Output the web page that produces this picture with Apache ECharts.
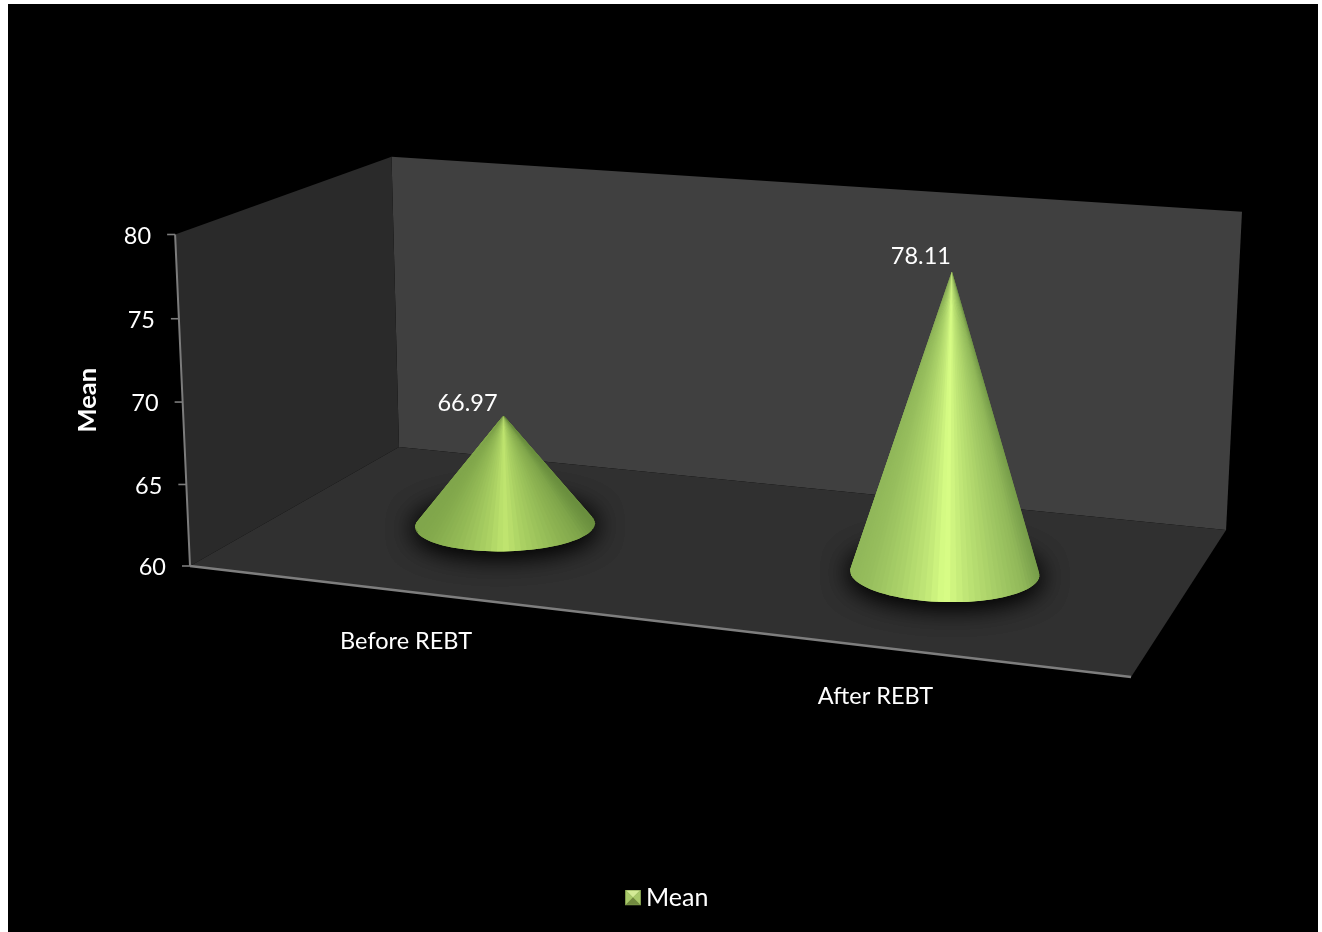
<!DOCTYPE html>
<html>
<head>
<meta charset="utf-8">
<style>
  html, body { margin: 0; padding: 0; background: #fff; }
  #chart { width: 1322px; height: 932px; }
</style>
<script src="https://cdn.jsdelivr.net/npm/echarts@6/dist/echarts.min.js"></script>
</head>
<body>
<div id="chart"></div>
<script>
// Chart data
const categories = ['Before REBT', 'After REBT'];
const meanValues = [66.97, 78.11];
const tickValues = [60, 65, 70, 75, 80];
const seriesName = 'Mean';
const axisTitle = 'Mean';

const FONT = 'Lato, Carlito, "Open Sans", sans-serif';
const FONT_SIZE = 23.5;

// Projective map of the unit floor square (u along the category axis, v into the depth).
const P = { a: 821.4, b: 268.85, c: 190, d: 39.4, e: -52, f: 566, g: -0.1058, h: 0.15 };
const H_UNIT = 331.5;        // height of the value range at the front-left corner
const H_DEPTH_POWER = 0.95;  // how strongly that height shrinks with distance
const LEAN_SLOPE = 9.17e-5;  // verticals converge on a point above x = 680
const LEAN_X0 = 680;
const TOP_BULGE = 0.022;     // foreshortening along the vertical direction

function project(u, v, t) {
  const w = P.g * u + P.h * v + 1;
  const X = (P.a * u + P.b * v + P.c) / w;
  const Y = (P.d * u + P.e * v + P.f) / w;
  const tp = t / (1 + TOP_BULGE * (1 - t));
  const hpx = (H_UNIT / Math.pow(w, H_DEPTH_POWER)) * tp;
  return [X + (X - LEAN_X0) * LEAN_SLOPE * hpx, Y - hpx];
}

// Turns a data point into axis fractions through the chart's own scales.
function toUnit(params, api, cat, val) {
  const g = params.coordSys;
  const pt = api.coord([cat, val]);
  return { u: (pt[0] - g.x) / g.width, t: (g.y + g.height - pt[1]) / g.height };
}

const SHADE_STOPS = [0, 0.08, 0.25, 0.4, 0.5, 0.6, 0.75, 0.92, 1];
const SHADE_LEVEL = [0.72, 0.74, 0.82, 0.91, 1, 0.91, 0.82, 0.72, 0.62];
function shade(s, peak) {
  let i = 0;
  while (i < SHADE_STOPS.length - 2 && s > SHADE_STOPS[i + 1]) i++;
  const f = (s - SHADE_STOPS[i]) / (SHADE_STOPS[i + 1] - SHADE_STOPS[i]);
  const k = SHADE_LEVEL[i] + (SHADE_LEVEL[i + 1] - SHADE_LEVEL[i]) * f;
  // Red and blue fall off a little faster than green, which keeps the sides saturated.
  const soft = Math.pow(k, 1.25);
  return 'rgb(' + Math.round(peak[0] * soft) + ',' + Math.round(peak[1] * k) + ',' + Math.round(peak[2] * soft) + ')';
}

const CONE_RU = 0.0985;
const CONE_RV = 0.198;
const CONE_V = 0.5;
const FACETS = 96;
const LABEL_DX = [-36, -31];
const LABEL_DY = [-12, -15];

function renderCone(params, api) {
  const idx = params.dataIndex;
  const val = api.value(1);
  const { u, t } = toUnit(params, api, api.value(0), val);
  const apex = project(u, CONE_V, t);
  const ring = [];
  for (let i = 0; i < FACETS; i++) {
    const th = (i / FACETS) * Math.PI * 2;
    ring.push(project(u + CONE_RU * Math.cos(th), CONE_V + CONE_RV * Math.sin(th), 0));
  }
  // Only the facets on the near arc of the base face the viewer; they run left to right.
  const visible = [];
  for (let i = 0; i < FACETS; i++) {
    const p = ring[i], q = ring[(i + 1) % FACETS];
    const cross = (p[0] - apex[0]) * (q[1] - apex[1]) - (p[1] - apex[1]) * (q[0] - apex[0]);
    if (cross < 0) visible.push([p, q]);
  }
  visible.sort((a, b) => (a[0][0] + a[1][0]) - (b[0][0] + b[1][0]));
  let minX = Infinity, maxX = -Infinity;
  visible.forEach(([p, q]) => {
    minX = Math.min(minX, p[0], q[0]);
    maxX = Math.max(maxX, p[0], q[0]);
  });
  // Flatter cones catch less of the frontal light.
  const centre = project(u, CONE_V, 0);
  const steep = Math.min(1, (centre[1] - apex[1]) / (maxX - minX) / 1.6);
  const peak = [176 + 42 * steep, 214 + 41 * steep, 98 + 37 * steep];

  const shadow = {
    type: 'polygon',
    shape: { points: ring },
    style: { fill: 'rgba(0,0,0,0.9)', shadowColor: '#000', shadowBlur: 28, shadowOffsetY: 2 }
  };
  const children = [shadow, Object.assign({}, shadow)];
  visible.forEach(([p, q], i) => {
    const s = ((p[0] + q[0]) / 2 - minX) / (maxX - minX);
    // Each facet reaches under its right-hand neighbour so no seam shows between them.
    const pts = i < visible.length - 1 ? [apex, p, q, visible[i + 1][1]] : [apex, p, q];
    children.push({
      type: 'polygon',
      shape: { points: pts },
      style: { fill: shade(s, peak) }
    });
  });
  children.push({
    type: 'text',
    style: {
      text: val.toFixed(2),
      x: apex[0] + LABEL_DX[idx],
      y: apex[1] + LABEL_DY[idx],
      fill: '#fff',
      font: FONT_SIZE + 'px ' + FONT,
      align: 'center',
      verticalAlign: 'middle'
    }
  });
  return { type: 'group', children };
}

// Walls, floor and the two axis lines; corners come from the axis fractions 0 and 1.
function renderFrame() {
  const fl = project(0, 0, 0), fr = project(1, 0, 0), bl = project(0, 1, 0), br = project(1, 1, 0);
  const flT = project(0, 0, 1), blT = project(0, 1, 1), brT = project(1, 1, 1);
  const span = tickValues[tickValues.length - 1] - tickValues[0];
  const axisPts = tickValues.map(v => project(0, 0, (v - tickValues[0]) / span));
  return {
    type: 'group',
    children: [
      { type: 'polygon', shape: { points: [bl, blT, brT, br] }, style: { fill: '#404040' } },
      { type: 'polygon', shape: { points: [fl, flT, blT, bl] }, style: { fill: '#2a2a2a' } },
      { type: 'polygon', shape: { points: [fl, bl, br, fr] }, style: { fill: '#303030' } },
      { type: 'polyline', shape: { points: axisPts }, style: { stroke: '#7c7c7c', lineWidth: 2, fill: 'none' } },
      { type: 'line', shape: { x1: fl[0], y1: fl[1], x2: fr[0], y2: fr[1] }, style: { stroke: '#7e7e7e', lineWidth: 2.4 } }
    ]
  };
}

function renderTick(params, api) {
  const { t } = toUnit(params, api, 0, api.value(1));
  const p = project(0, 0, t);
  return {
    type: 'group',
    children: [
      { type: 'line', shape: { x1: p[0] - 8, y1: p[1], x2: p[0], y2: p[1] }, style: { stroke: '#7c7c7c', lineWidth: 1.6 } },
      {
        type: 'text',
        style: {
          text: String(api.value(1)),
          x: p[0] - 24,
          y: p[1] + 1.5,
          fill: '#fff',
          font: FONT_SIZE + 'px ' + FONT,
          align: 'right',
          verticalAlign: 'middle'
        }
      }
    ]
  };
}

function renderCategory(params, api) {
  const { u } = toUnit(params, api, api.value(0), tickValues[0]);
  const p = project(u, 0, 0);
  return {
    type: 'text',
    style: {
      text: categories[params.dataIndex],
      x: p[0],
      y: p[1] + 50,
      fill: '#fff',
      font: FONT_SIZE + 'px ' + FONT,
      align: 'center',
      verticalAlign: 'middle'
    }
  };
}

const legendIcon = 'image://data:image/svg+xml;charset=utf-8,' + encodeURIComponent(
  '<svg xmlns="http://www.w3.org/2000/svg" width="16" height="16">' +
  '<rect width="16" height="16" fill="#7f9a4c"/>' +
  '<polygon points="1,1 15,1 8,8" fill="#d3eb96"/>' +
  '<polygon points="1,1 8,8 1,15" fill="#a8c96a"/>' +
  '<polygon points="15,1 8,8 15,15" fill="#a8c96a"/>' +
  '<polygon points="1,15 15,15 8,8" fill="#71893f"/>' +
  '</svg>');

const chart = echarts.init(document.getElementById('chart'), null, { renderer: 'canvas' });
chart.setOption({
  animation: false,
  backgroundColor: '#fff',
  graphic: [{
    type: 'rect',
    z: -10,
    shape: { x: 8, y: 4, width: 1310, height: 928 },
    style: { fill: '#000' }
  }],
  grid: { left: 190, top: 234.5, width: 941, height: 331.5 },
  xAxis: {
    type: 'category',
    data: categories,
    axisLine: { show: false },
    axisTick: { show: false },
    axisLabel: { show: false }
  },
  yAxis: {
    type: 'value',
    min: 60,
    max: 80,
    interval: 5,
    name: axisTitle,
    nameLocation: 'middle',
    nameGap: 89,
    nameTextStyle: { color: '#fff', fontFamily: FONT, fontWeight: 'bold', fontSize: 25.5 },
    axisLine: { show: false },
    axisTick: { show: false },
    axisLabel: { show: false },
    splitLine: { show: false }
  },
  legend: {
    data: [{ name: seriesName, icon: legendIcon }],
    left: 625,
    top: 885,
    padding: 0,
    itemWidth: 16,
    itemHeight: 16,
    itemGap: 6,
    textStyle: { color: '#fff', fontFamily: FONT, fontSize: 25 }
  },
  series: [
    {
      id: 'frame', type: 'custom', z: 1, silent: true, clip: false,
      renderItem: renderFrame,
      data: [[0, tickValues[0]]]
    },
    {
      id: 'ticks', type: 'custom', z: 3, silent: true, clip: false,
      renderItem: renderTick,
      encode: { x: 0, y: 1 },
      data: tickValues.map(v => [0, v])
    },
    {
      id: 'categories', type: 'custom', z: 3, silent: true, clip: false,
      renderItem: renderCategory,
      encode: { x: 0, y: 1 },
      data: categories.map((c, i) => [i, tickValues[0]])
    },
    {
      name: seriesName, type: 'custom', z: 2, clip: false,
      itemStyle: { color: '#a8c96a' },
      renderItem: renderCone,
      encode: { x: 0, y: 1 },
      data: meanValues.map((v, i) => [i, v])
    }
  ]
});
</script>
</body>
</html>
